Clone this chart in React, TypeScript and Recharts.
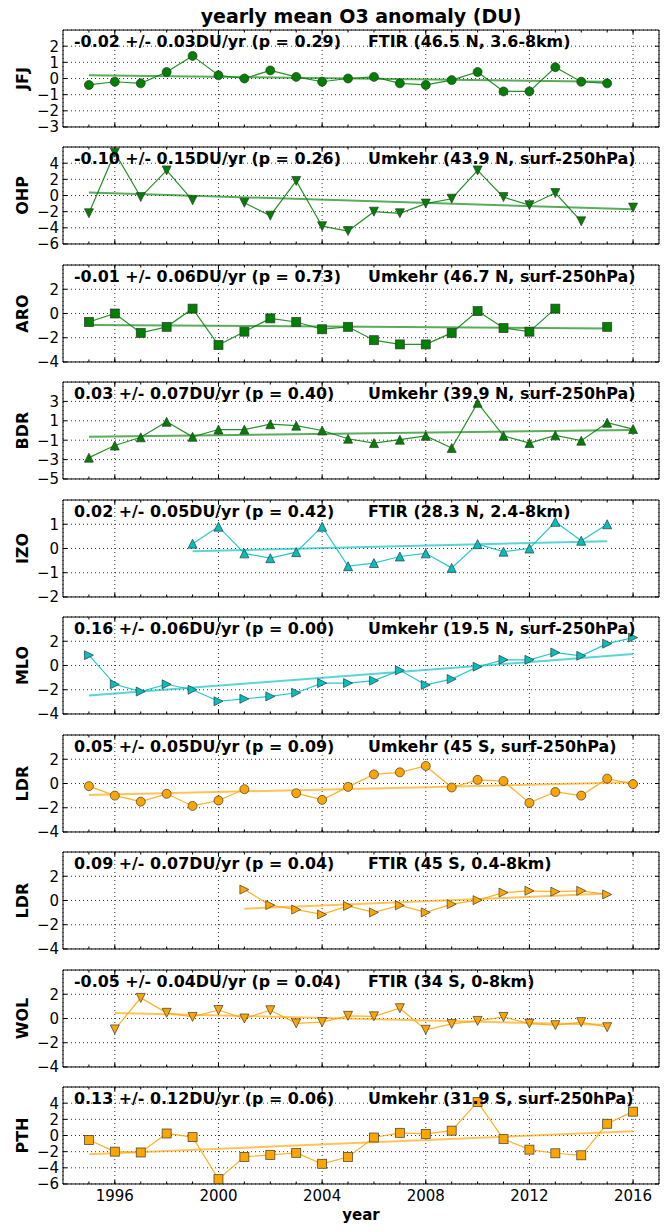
import React from "react";
import { CartesianGrid, Line, LineChart, ReferenceArea, XAxis, YAxis } from "recharts";

// years on the x axis, one slot per year; null = no value that year
const YEARS = [1995, 1996, 1997, 1998, 1999, 2000, 2001, 2002, 2003, 2004, 2005, 2006, 2007, 2008, 2009, 2010, 2011, 2012, 2013, 2014, 2015, 2016];
const MAJOR_YEARS = [1996, 2000, 2004, 2008, 2012, 2016];
const X_DOMAIN = [1994, 2017];

const JFJ = [-0.4, -0.2, -0.3, 0.4, 1.4, 0.2, 0.0, 0.5, 0.1, -0.2, 0.0, 0.1, -0.3, -0.4, -0.1, 0.4, -0.8, -0.8, 0.7, -0.2, -0.3, null];
const OHP = [-2.2, 5.3, -0.2, 3.1, -0.6, null, -0.9, -2.5, 1.8, -3.8, -4.4, -2.0, -2.2, -1.0, -0.4, 3.1, -0.2, -1.2, 0.3, -3.2, null, -1.5];
const ARO = [-0.7, 0.0, -1.6, -1.1, 0.4, -2.6, -1.5, -0.4, -0.7, -1.3, -1.1, -2.2, -2.55, -2.55, -1.6, 0.2, -1.2, -1.5, 0.4, null, -1.1, null];
const BDR = [-2.8, -1.55, -0.7, 0.9, -0.65, 0.1, 0.1, 0.65, 0.5, 0.0, -0.85, -1.3, -0.95, -0.55, -1.8, 2.85, -0.55, -1.3, -0.5, -1.05, 0.8, 0.15];
const IZO = [null, null, null, null, 0.2, 0.9, -0.2, -0.4, -0.15, 0.9, -0.73, -0.6, -0.33, -0.2, -0.8, 0.18, -0.13, 0.0, 1.1, 0.32, 1.0, null];
const MLO = [0.85, -1.55, -2.15, -1.55, -2.0, -2.95, -2.75, -2.55, -2.25, -1.45, -1.45, -1.25, -0.4, -1.6, -1.12, -0.1, 0.47, 0.47, 1.07, 0.8, 1.8, 2.3];
const LDR_UMK = [-0.22, -1.0, -1.5, -0.85, -1.85, -1.4, -0.47, null, -0.8, -1.35, -0.28, 0.75, 0.92, 1.45, -0.33, 0.3, 0.2, -1.6, -0.7, -1.0, 0.4, -0.05];
const LDR_FTIR = [null, null, null, null, null, null, 0.9, -0.38, -0.75, -1.15, -0.45, -0.98, -0.4, -0.98, -0.3, 0.03, 0.65, 0.8, 0.73, 0.8, 0.5, null];
const WOL = [null, -0.9, 1.7, 0.47, 0.13, 0.7, 0.0, 0.68, -0.4, -0.3, 0.22, 0.18, 0.85, -0.93, -0.45, -0.2, 0.13, -0.42, -0.55, -0.3, -0.72, null];
const PTH = [-0.55, -2.0, -2.1, 0.25, -0.2, -5.4, -2.65, -2.4, -2.15, -3.5, -2.65, -0.25, 0.33, 0.2, 0.6, 4.15, -0.45, -1.75, -2.2, -2.45, 1.45, 2.95];

// trend line end points [start, end]
const JFJ_TREND_YEARS = [1995, 2015];
const JFJ_TREND = [0.2, -0.2];
const OHP_TREND_YEARS = [1995, 2016];
const OHP_TREND = [0.37, -1.7];
const ARO_TREND_YEARS = [1995, 2015];
const ARO_TREND = [-0.95, -1.23];
const BDR_TREND_YEARS = [1995, 2016];
const BDR_TREND = [-0.65, 0.05];
const IZO_TREND_YEARS = [1999, 2015];
const IZO_TREND = [-0.11, 0.3];
const MLO_TREND_YEARS = [1995, 2016];
const MLO_TREND = [-2.48, 0.94];
const LDR_UMK_TREND_YEARS = [1995, 2016];
const LDR_UMK_TREND = [-0.95, 0.1];
const LDR_FTIR_TREND_YEARS = [2001, 2015];
const LDR_FTIR_TREND = [-0.68, 0.57];
const WOL_TREND_YEARS = [1996, 2015];
const WOL_TREND = [0.46, -0.52];
const PTH_TREND_YEARS = [1995, 2016];
const PTH_TREND = [-2.33, 0.53];

// y tick labels
const TICKS_3 = [-3, -2, -1, 0, 1, 2];
const TICKS_6 = [-6, -4, -2, 0, 2, 4];
const TICKS_4 = [-4, -2, 0, 2];
const TICKS_5 = [-5, -3, -1, 1, 3];
const TICKS_2 = [-2, -1, 0, 1];

const GREEN = "#008000";
const CYAN = "#00bfbf";
const ORANGE = "#ffa500";

const PANELS = [
  { label: "JFJ", values: JFJ, ty: JFJ_TREND_YEARS, tv: JFJ_TREND, ticks: TICKS_3, domain: [-3, 3], color: GREEN, marker: "o", stat: "-0.02 +/- 0.03DU/yr (p = 0.29)", site: "FTIR (46.5 N, 3.6-8km)" },
  { label: "OHP", values: OHP, ty: OHP_TREND_YEARS, tv: OHP_TREND, ticks: TICKS_6, domain: [-6, 6], color: GREEN, marker: "v", stat: "-0.10 +/- 0.15DU/yr (p = 0.26)", site: "Umkehr (43.9 N, surf-250hPa)" },
  { label: "ARO", values: ARO, ty: ARO_TREND_YEARS, tv: ARO_TREND, ticks: TICKS_4, domain: [-4, 4], color: GREEN, marker: "s", stat: "-0.01 +/- 0.06DU/yr (p = 0.73)", site: "Umkehr (46.7 N, surf-250hPa)" },
  { label: "BDR", values: BDR, ty: BDR_TREND_YEARS, tv: BDR_TREND, ticks: TICKS_5, domain: [-5, 5], color: GREEN, marker: "^", stat: "0.03 +/- 0.07DU/yr (p = 0.40)", site: "Umkehr (39.9 N, surf-250hPa)" },
  { label: "IZO", values: IZO, ty: IZO_TREND_YEARS, tv: IZO_TREND, ticks: TICKS_2, domain: [-2, 2], color: CYAN, marker: "^", stat: "0.02 +/- 0.05DU/yr (p = 0.42)", site: "FTIR (28.3 N, 2.4-8km)" },
  { label: "MLO", values: MLO, ty: MLO_TREND_YEARS, tv: MLO_TREND, ticks: TICKS_4, domain: [-4, 4], color: CYAN, marker: ">", stat: "0.16 +/- 0.06DU/yr (p = 0.00)", site: "Umkehr (19.5 N, surf-250hPa)" },
  { label: "LDR", values: LDR_UMK, ty: LDR_UMK_TREND_YEARS, tv: LDR_UMK_TREND, ticks: TICKS_4, domain: [-4, 4], color: ORANGE, marker: "o", stat: "0.05 +/- 0.05DU/yr (p = 0.09)", site: "Umkehr (45 S, surf-250hPa)" },
  { label: "LDR", values: LDR_FTIR, ty: LDR_FTIR_TREND_YEARS, tv: LDR_FTIR_TREND, ticks: TICKS_4, domain: [-4, 4], color: ORANGE, marker: ">", stat: "0.09 +/- 0.07DU/yr (p = 0.04)", site: "FTIR (45 S, 0.4-8km)" },
  { label: "WOL", values: WOL, ty: WOL_TREND_YEARS, tv: WOL_TREND, ticks: TICKS_4, domain: [-4, 4], color: ORANGE, marker: "v", stat: "-0.05 +/- 0.04DU/yr (p = 0.04)", site: "FTIR (34 S, 0-8km)" },
  { label: "PTH", values: PTH, ty: PTH_TREND_YEARS, tv: PTH_TREND, ticks: TICKS_6, domain: [-6, 6], color: ORANGE, marker: "s", stat: "0.13 +/- 0.12DU/yr (p = 0.06)", site: "Umkehr (31.9 S, surf-250hPa)" },
];

const FONT = "DejaVu Sans";
const W = 666;
const H = 1232;
const PLOT_LEFT = 63;
const PLOT_RIGHT = 659;
const PLOT_H = 97;
const PANEL_TOPS = [30, 147, 265, 382, 500, 617, 735, 852, 970, 1087];
const M_TOP = 6;
const THIN = 0.01; // axes of zero size are not drawn, so give them a sliver

const minus = (v: number) => String(v).replace("-", "\u2212");
const noLabel = () => <g />;

function Marker({ cx, cy, shape, fill }: any) {
  const r = 4.5;
  const st = { fill, stroke: "#333", strokeWidth: 0.8, strokeOpacity: 0.85 };
  if (shape === "o") return <circle cx={cx} cy={cy} r={r} {...st} />;
  if (shape === "s") return <rect x={cx - r} y={cy - r} width={2 * r} height={2 * r} {...st} />;
  let pts: number[][] = [];
  if (shape === "^") pts = [[0, -r], [-r, r], [r, r]];
  if (shape === "v") pts = [[0, r], [-r, -r], [r, -r]];
  if (shape === ">") pts = [[r, 0], [-r, -r], [-r, r]];
  return <polygon points={pts.map(([dx, dy]) => `${cx + dx},${cy + dy}`).join(" ")} {...st} />;
}

const tickFont = { fontSize: 15, fill: "#000", fontFamily: FONT };

function Panel({ p, last }: any) {
  const data = YEARS.map((year, i) => ({ year, v: p.values[i] }));
  const trend = p.ty.map((year: number, i: number) => ({ year, t: p.tv[i] }));
  const mBot = last ? 30 : 10;
  const xCommon = {
    type: "number" as const,
    dataKey: "year",
    domain: X_DOMAIN,
    interval: 0,
    height: THIN,
    allowDataOverflow: true,
    axisLine: false,
    tickLine: { stroke: "#000", strokeWidth: 1 },
  };
  return (
    <LineChart
      width={W}
      height={M_TOP + PLOT_H + mBot}
      data={data}
      margin={{ top: M_TOP, right: W - PLOT_RIGHT, bottom: mBot, left: 0 }}
    >
      <CartesianGrid stroke="#000" strokeDasharray="1 3" strokeWidth={0.8} />
      <XAxis
        {...xCommon}
        ticks={MAJOR_YEARS}
        tickSize={-4}
        tickMargin={10}
        tick={last ? tickFont : noLabel}
      />
      <XAxis {...xCommon} xAxisId="minor" ticks={YEARS} tickSize={-2.5} tick={noLabel} />
      <XAxis {...xCommon} xAxisId="top" orientation="top" ticks={MAJOR_YEARS} tickSize={-4} tick={noLabel} />
      <XAxis {...xCommon} xAxisId="topminor" orientation="top" ticks={YEARS} tickSize={-2.5} tick={noLabel} />
      <YAxis
        type="number"
        domain={p.domain}
        ticks={p.ticks}
        interval={0}
        width={PLOT_LEFT}
        tickSize={-4}
        tickMargin={8}
        tickFormatter={minus}
        tick={tickFont}
        tickLine={{ stroke: "#000" }}
        axisLine={false}
        allowDataOverflow
      />
      <YAxis
        yAxisId="right"
        orientation="right"
        type="number"
        domain={p.domain}
        ticks={p.ticks}
        interval={0}
        width={THIN}
        tickSize={-4}
        tick={noLabel}
        tickLine={{ stroke: "#000" }}
        axisLine={false}
        allowDataOverflow
      />
      <ReferenceArea
        x1={X_DOMAIN[0]}
        x2={X_DOMAIN[1]}
        y1={p.domain[0]}
        y2={p.domain[1]}
        fill="none"
        fillOpacity={0}
        stroke="#000"
        strokeWidth={1}
        ifOverflow="visible"
      />
      <Line
        data={trend}
        dataKey="t"
        type="linear"
        stroke={p.color}
        strokeOpacity={0.65}
        strokeWidth={2}
        dot={false}
        activeDot={false}
        isAnimationActive={false}
      />
      <Line
        dataKey="v"
        type="linear"
        stroke={p.color}
        strokeOpacity={0.85}
        strokeWidth={1.2}
        connectNulls={false}
        activeDot={false}
        isAnimationActive={false}
        dot={(dp: any) =>
          dp.cy == null || dp.value == null ? (
            <g key={`e${dp.index}`} />
          ) : (
            <Marker key={`m${dp.index}`} cx={dp.cx} cy={dp.cy} shape={p.marker} fill={p.color} />
          )
        }
      />
    </LineChart>
  );
}

export default function App() {
  const midX = (PLOT_LEFT + PLOT_RIGHT) / 2;
  return (
    <div style={{ position: "relative", width: W, height: H, background: "#fff", fontFamily: FONT }}>
      <style>{`body{margin:0;background:#fff}`}</style>
      {PANELS.map((p, i) => (
        <div key={i} style={{ position: "absolute", left: 0, top: PANEL_TOPS[i] - M_TOP }}>
          <Panel p={p} last={i === PANELS.length - 1} />
        </div>
      ))}
      <svg width={W} height={H} style={{ position: "absolute", left: 0, top: 0, pointerEvents: "none" }}>
        <text x={midX} y={23} textAnchor="middle" fontFamily={FONT} fontWeight="bold" fontSize={19}>
          yearly mean O3 anomaly (DU)
        </text>
        {PANELS.map((p, i) => {
          const top = PANEL_TOPS[i];
          const cy = top + PLOT_H / 2;
          return (
            <g key={i}>
              <text
                x={28}
                y={cy}
                transform={`rotate(-90 28 ${cy})`}
                textAnchor="middle"
                fontFamily={FONT}
                fontWeight="bold"
                fontSize={16}
              >
                {p.label}
              </text>
              <text x={74} y={top + 17} fontFamily={FONT} fontWeight="bold" fontSize={15.9}>
                {p.stat}
              </text>
              <text x={368} y={top + 17} fontFamily={FONT} fontWeight="bold" fontSize={15.9}>
                {p.site}
              </text>
            </g>
          );
        })}
        <text x={midX} y={1220} textAnchor="middle" fontFamily={FONT} fontWeight="bold" fontSize={15}>
          year
        </text>
      </svg>
    </div>
  );
}
